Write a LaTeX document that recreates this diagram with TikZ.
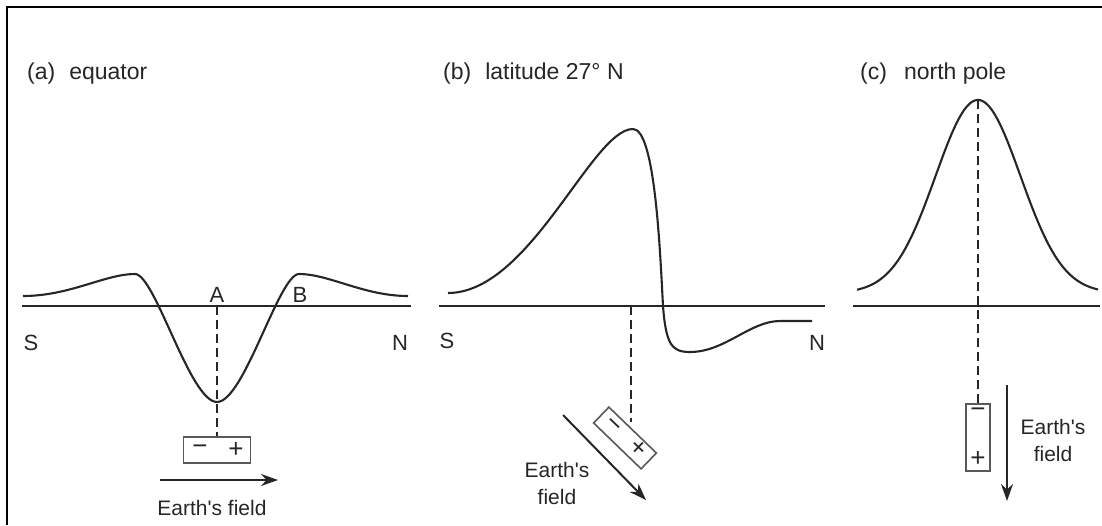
\documentclass[tikz,border=0pt]{standalone}
\usepackage{fontspec}
\setmainfont{Liberation Sans}[Ligatures=TeXOff]
\usetikzlibrary{arrows.meta}
\begin{document}
\begin{tikzpicture}[x=1pt,y=-1pt,
  curve/.style={line width=2.1pt, black!85, line join=round},
  axis/.style={line width=2.1pt, black!85},
  guide/.style={line width=1.7pt, dash pattern=on 9pt off 5pt, black!85},
  magnet/.style={draw=black!65, line width=1.6pt, fill=white, inner sep=0pt},
  field/.style={line width=2pt, black!85, -{Stealth[length=17pt,width=12pt]}},
  title/.style={font=\fontsize{23}{27}\selectfont, anchor=base west, inner sep=0pt, text=black!85},
  lbl/.style={font=\fontsize{22}{26}\selectfont, anchor=base, inner sep=0pt, text=black!85},
  fieldlbl/.style={font=\fontsize{21}{27}\selectfont, anchor=base, inner sep=0pt, align=center, text=black!85},
  sign/.style={font=\fontsize{26}{30}\selectfont, inner sep=0pt, text=black!85},
]
\useasboundingbox (0,0) rectangle (1102,525);
% frame
\draw[line width=2.2pt] (7,525) -- (7,7) -- (1102,7);

% ---------- (a) equator ----------
\node[title] (ta) at (27,79) {(a)\hspace{14pt}equator};
\coordinate (a0) at (22,306);
\coordinate (a1) at (411,306);
\draw[axis] (a0) -- (a1);
\draw[curve] (23,296) .. controls (70,296) and (105,274) .. (135,274)
  .. controls (155,274) and (190,402) .. (217,402)
  .. controls (244,402) and (279,274) .. (299,274)
  .. controls (329,274) and (364,296) .. (408,296);
\node[lbl] (A) at (217,302) {A};
\node[lbl] (B) at (300,302) {B};
\node[lbl] (aS) at (31,350) {S};
\node[lbl] (aN) at (400,350) {N};
\node[magnet, minimum width=67pt, minimum height=26pt] (amag) at (217,450) {};
\node[sign] (aminus) at (200,450) {−};
\node[sign] (aplus) at (236,450) {+};
\coordinate (ad) at (217,306);
\draw[guide] (ad) -- (amag.north);
\coordinate (af0) at (160,480);
\coordinate (af1) at (278,480);
\draw[field] (af0) -- (af1);
\node[fieldlbl] (afl) at (212,515) {Earth's field};

% ---------- (b) latitude 27 N ----------
\node[title] (tb) at (443,79) {(b)\hspace{14pt}latitude 27° N};
\coordinate (b0) at (439,306);
\coordinate (b1) at (825,306);
\draw[axis] (b0) -- (b1);
\draw[curve] (448,293) .. controls (530,293) and (592,129) .. (633,129)
  .. controls (655,129) and (660,250) .. (663,306)
  .. controls (666,345) and (672,352) .. (690,352)
  .. controls (725,352) and (750,321) .. (780,321) -- (812,321);
\node[lbl] (bS) at (447,348) {S};
\node[lbl] (bN) at (817,350) {N};
\node[magnet, minimum width=66pt, minimum height=22pt, rotate=-44] (bmag) at (625,438) {};
\node[sign, rotate=-44] (bminus) at (612,426) {−};
\node[sign, rotate=-44] (bplus) at (638,448) {+};
\coordinate (bd0) at (631,306);
\coordinate (bd1) at (631,422);
\draw[guide] (bd0) -- (bd1);
\coordinate (bf0) at (563,415);
\coordinate (bf1) at (646,500);
\draw[field] (bf0) -- (bf1);
\node[fieldlbl] (bfl) at (557,504) {Earth's\\field};

% ---------- (c) north pole ----------
\node[title] (tc) at (860,79) {(c)\hspace{17pt}north pole};
\coordinate (c0) at (853,306);
\coordinate (c1) at (1100,306);
\draw[axis] (c0) -- (c1);
\draw[curve] plot[domain=857:1098, samples=150] (\x, {293-193*exp(-((\x-978)/60)*((\x-978)/60))});
\node[magnet, minimum width=24pt, minimum height=67pt] (cmag) at (978,437.5) {};
\node[sign] (cminus) at (978,413) {−};
\node[sign] (cplus) at (978,459) {+};
\coordinate (cd) at (978,100);
\draw[guide] (cd) -- (cmag.north);
\coordinate (cf0) at (1007,385);
\coordinate (cf1) at (1007,501);
\draw[field] (cf0) -- (cf1);
\node[fieldlbl] (cfl) at (1053,461) {Earth's\\field};
\end{tikzpicture}
\end{document}
